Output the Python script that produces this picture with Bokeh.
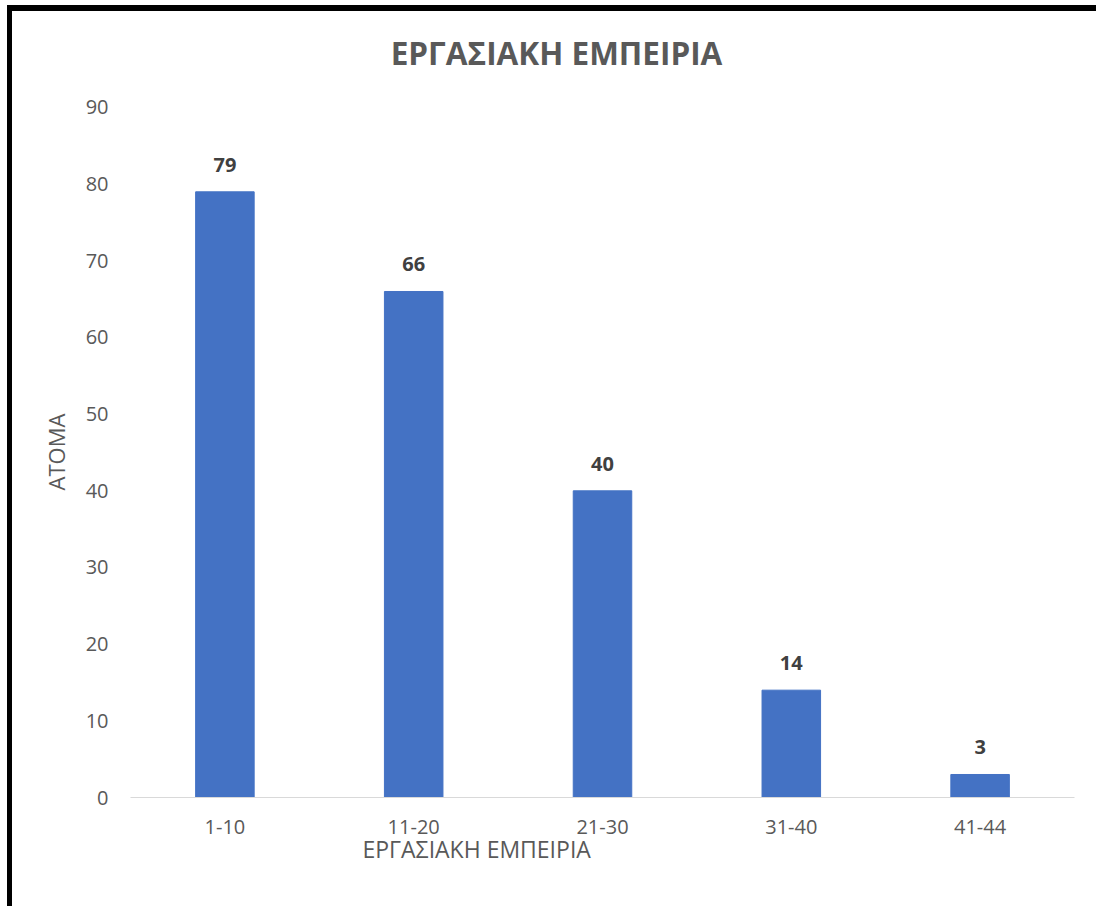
from bokeh.plotting import figure
from bokeh.models import ColumnDataSource, LabelSet, Title
from bokeh.core.properties import value
from bokeh.embed import file_html
from bokeh.resources import INLINE

categories = ["1-10", "11-20", "21-30", "31-40", "41-44"]
values = [79, 66, 40, 14, 3]
title_text = "ΕΡΓΑΣΙΑΚΗ ΕΜΠΕΙΡΙΑ"
x_label = "ΕΡΓΑΣΙΑΚΗ ΕΜΠΕΙΡΙΑ"
y_label = "ΑΤΟΜΑ"
y_ticks = [0, 10, 20, 30, 40, 50, 60, 70, 80, 90]

FONT = "Open Sans"
GRAY = "#595959"

src = ColumnDataSource(dict(cat=categories, val=values, txt=[str(v) for v in values]))

# y axis runs 0..90; the extra headroom above 90 holds the chart title
p = figure(x_range=categories, y_range=(0, 99.91), width=1089, height=901,
           output_backend="svg", toolbar_location=None,
           min_border_left=118, min_border_right=27, min_border_top=20, min_border_bottom=115)
p.title = None
p.styles = {"border-top": "6px solid black", "border-left": "5px solid black",
            "margin-left": "7px", "margin-top": "5px"}

p.vbar(x="cat", top="val", width=0.31, source=src, fill_color="#4472C4", line_color="#4472C4")

labels = LabelSet(x="cat", y="val", text="txt", source=src, y_offset=20,
                  text_align="center", text_baseline="bottom",
                  text_font=value(FONT), text_font_size=value("20px"),
                  text_font_style=value("bold"), text_color=value("#404040"))
p.add_layout(labels)

# chart title
p.text(x=[categories[2]], y=[97.17], text=[title_text], x_offset=-46,
       text_align="center", text_baseline="middle",
       text_font=value(FONT), text_font_size=value("31.5px"),
       text_font_style=value("bold"), text_color=GRAY)

p.outline_line_color = None
p.grid.grid_line_color = None
p.background_fill_color = "white"
p.border_fill_color = "white"

p.xaxis.axis_line_color = "#D9D9D9"
p.xaxis.major_tick_line_color = None
p.xaxis.minor_tick_line_color = None
p.xaxis.major_tick_out = 0
p.xaxis.major_label_standoff = 22
p.xaxis.major_label_text_font = FONT
p.xaxis.major_label_text_font_size = "20px"
p.xaxis.major_label_text_color = GRAY

p.yaxis.axis_line_color = None
p.yaxis.major_tick_line_color = None
p.yaxis.minor_tick_line_color = None
p.yaxis.major_tick_out = 0
p.yaxis.major_label_standoff = 22
p.yaxis.ticker = y_ticks
p.yaxis.major_label_text_font = FONT
p.yaxis.major_label_text_font_size = "20px"
p.yaxis.major_label_text_color = GRAY

# y axis title, placed on the 0..90 part of the axis
p.add_layout(Title(text=y_label, align="left", offset=307, standoff=24,
                   text_font=FONT, text_font_size="22px", text_font_style="normal",
                   text_color=GRAY), "left")

p.add_layout(Title(text=x_label, align="left", offset=232, standoff=-11,
                   text_font=FONT, text_font_size="23px", text_font_style="normal",
                   text_color=GRAY), "below")

open("out.html", "w").write(file_html(p, INLINE))
